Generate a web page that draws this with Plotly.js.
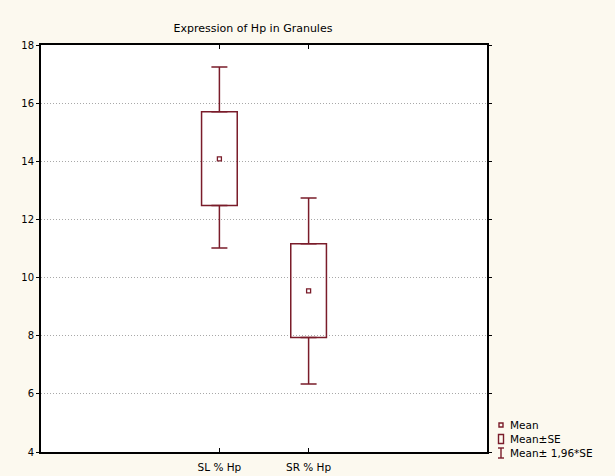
<!DOCTYPE html>
<html>
<head>
<meta charset="utf-8">
<script src="https://cdn.plot.ly/plotly-3.0.1.min.js"></script>
<style>html,body{margin:0;padding:0;background:#fcf9ef;}#chart{width:615px;height:476px;}</style>
</head>
<body>
<div id="chart"></div>
<script>
// Data
const categories = ["SL % Hp", "SR % Hp"];
const meanValues = [14.08, 9.54];
const seLow = [12.48, 7.94];      // Mean - SE
const seHigh = [15.70, 11.16];    // Mean + SE
const ciLow = [11.02, 6.34];      // Mean - 1.96*SE
const ciHigh = [17.24, 12.74];    // Mean + 1.96*SE
const yTicks = [4, 6, 8, 10, 12, 14, 16, 18];
const legendLabels = ["Mean", "Mean±SE", "Mean± 1,96*SE"];

const maroon = "#7a1c2a";
const fontFam = "DejaVu Sans, Verdana, sans-serif";

const boxHeights = seHigh.map((v, i) => v - seLow[i]);
const upperLen = ciHigh.map((v, i) => v - seHigh[i]);
const lowerLen = seLow.map((v, i) => v - ciLow[i]);
const zeros = categories.map(() => 0);

const traces = [
  {
    type: "bar", name: legendLabels[1], x: categories, y: boxHeights, base: seLow,
    width: 0.4, marker: {color: "rgba(255,255,255,0)", line: {color: maroon, width: 1.5}},
    hoverinfo: "skip"
  },
  {
    type: "scatter", mode: "markers", x: categories, y: seHigh,
    marker: {opacity: 0, size: 1},
    error_y: {type: "data", symmetric: false, array: upperLen, arrayminus: zeros, width: 8, thickness: 1.5, color: maroon}
  },
  {
    type: "scatter", mode: "markers", x: categories, y: seLow,
    marker: {opacity: 0, size: 1},
    error_y: {type: "data", symmetric: false, array: zeros, arrayminus: lowerLen, width: 8, thickness: 1.5, color: maroon}
  },
  {
    type: "scatter", mode: "markers", name: legendLabels[0], x: categories, y: meanValues,
    marker: {symbol: "square-open", size: 4, color: maroon, line: {width: 1.3, color: maroon}}
  }
];

// Legend (drawn beside the plot, anchored to its lower-right corner, in pixels)
const rowOffsets = [27, 13, -1];
const legShape = (o) => Object.assign({xref: "paper", yref: "paper", xsizemode: "pixel", ysizemode: "pixel",
  xanchor: 1, yanchor: 0, line: {color: maroon, width: 1.4}}, o);
const shapes = [
  legShape({type: "rect", x0: 12, x1: 16, y0: rowOffsets[0] - 2, y1: rowOffsets[0] + 2}),
  legShape({type: "rect", x0: 11.5, x1: 16.5, y0: rowOffsets[1] - 4.5, y1: rowOffsets[1] + 4.5}),
  legShape({type: "line", x0: 14, x1: 14, y0: rowOffsets[2] - 5, y1: rowOffsets[2] + 5}),
  legShape({type: "line", x0: 11, x1: 17, y0: rowOffsets[2] - 5, y1: rowOffsets[2] - 5}),
  legShape({type: "line", x0: 11, x1: 17, y0: rowOffsets[2] + 5, y1: rowOffsets[2] + 5})
];
const annotations = legendLabels.map((t, i) => ({
  text: t, xref: "paper", yref: "paper", x: 1, y: 0, xanchor: "left", yanchor: "middle",
  xshift: 21, yshift: rowOffsets[i], showarrow: false,
  font: {family: fontFam, size: 10.5, color: "#000"}
}));

const layout = {
  width: 615, height: 476,
  paper_bgcolor: "#fcf9ef", plot_bgcolor: "#ffffff",
  margin: {l: 41, r: 128, t: 45, b: 24},
  font: {family: fontFam, size: 10, color: "#000"},
  title: {text: "Expression of Hp in Granules", x: 253 / 615, xref: "container", xanchor: "center",
          y: 1 - 28 / 476, yref: "container", yanchor: "middle",
          font: {family: fontFam, size: 11, color: "#000"}},
  showlegend: false,
  shapes: shapes,
  annotations: annotations,
  bargap: 0,
  xaxis: {
    type: "category", range: [-2, 3], showgrid: false, zeroline: false,
    showline: true, linecolor: "#000", linewidth: 2, mirror: "ticks",
    ticks: "inside", ticklen: 4, tickcolor: "#000", tickfont: {family: fontFam, size: 10.5},
    ticklabelstandoff: 4
  },
  yaxis: {
    range: [4, 18], tickvals: yTicks, ticktext: yTicks.map(String),
    showgrid: true, gridcolor: "#a8a8a8", griddash: "1px,2px", gridwidth: 1, zeroline: false,
    showline: true, linecolor: "#000", linewidth: 2, mirror: "ticks",
    ticks: "outside", ticklen: 3, tickcolor: "#000", tickfont: {family: fontFam, size: 10}
  }
};

Plotly.newPlot("chart", traces, layout, {displayModeBar: false, staticPlot: true});
</script>
</body>
</html>
